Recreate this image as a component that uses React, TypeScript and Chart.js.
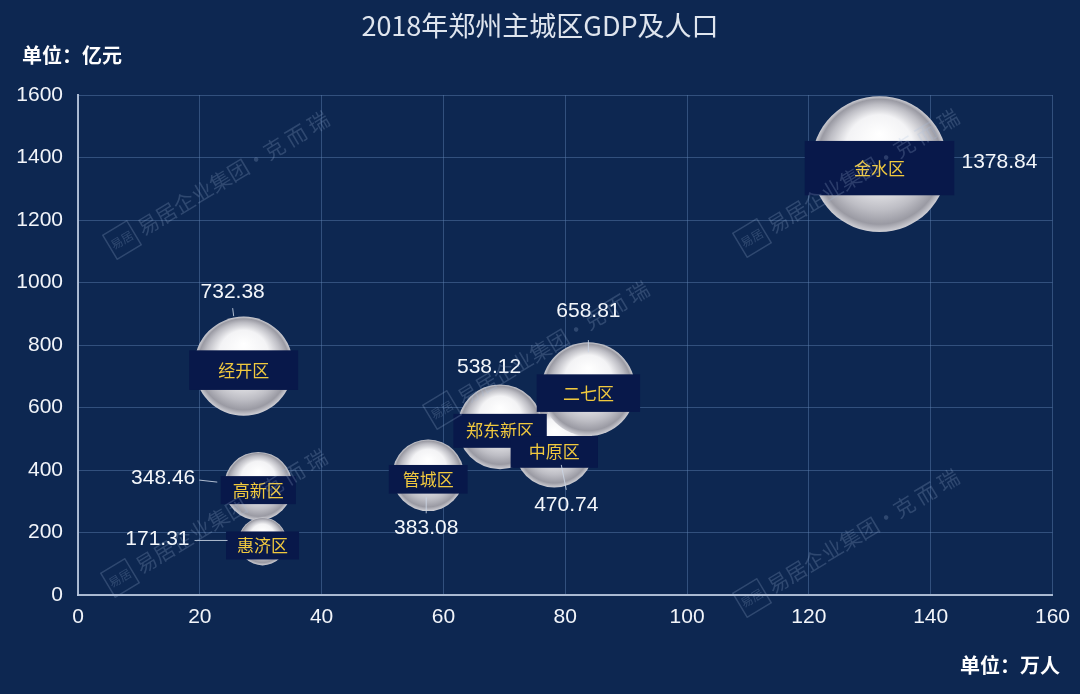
import { useEffect, useRef } from 'react';
import { Chart, registerables } from 'chart.js';

Chart.register(...registerables);

// ---- data ----
const districts = ['中原区', '郑东新区', '二七区', '金水区', '经开区', '高新区', '惠济区', '管城区'];
const population = [78.2, 69.3, 83.8, 131.6, 27.2, 29.6, 30.3, 57.5]; // 万人
const gdp = [470.74, 538.12, 658.81, 1378.84, 732.38, 348.46, 171.31, 383.08]; // 亿元
const xTickStep = 20;
const yTickStep = 200;
const xMax = 160;
const yMax = 1600;

// ---- annotation styling (value label offsets relative to bubble centre) ----
const valueAlign: CanvasTextAlign[] = ['center', 'center', 'center', 'left', 'center', 'right', 'right', 'center'];
const valueOffset = [[12, 57], [-11, -60], [0, -78], [82, -2], [-11, -74], [-63, -8], [-73, -2], [-2, 53]];
const leaderLines: (number[] | null)[] = [
  [7, 17, 12, 42],
  null,
  [0, -49, 0, -37],
  null,
  [-11, -58, -10, -50],
  [-59, -6, -41, -4],
  [-68, -1, -35, -1],
  [-2, 22, -2, 38],
];

const BG = '#0d2751';
const BOX = '#08184a';
const YELLOW = '#f1c93e';
const CJK = '"Noto Sans CJK SC", "Noto Sans", sans-serif';
const NUM = '"Liberation Sans", Arial, sans-serif';
const RK = 1.83;

const radiusFor = (v: number) => RK * Math.sqrt(v);

function sphereFill(ctx: CanvasRenderingContext2D, cx: number, cy: number, r: number) {
  const g = ctx.createRadialGradient(cx, cy - 0.45 * r, 0, cx, cy, r);
  g.addColorStop(0, '#ffffff');
  g.addColorStop(0.5, '#f3f3f5');
  g.addColorStop(0.78, '#bdbdc4');
  g.addColorStop(0.92, '#9a9aa3');
  g.addColorStop(1, '#cfcfd5');
  return g;
}

function drawWatermark(ctx: CanvasRenderingContext2D, x: number, y: number) {
  ctx.save();
  ctx.translate(x, y);
  ctx.rotate((-31 * Math.PI) / 180);
  ctx.strokeStyle = 'rgba(170,190,225,0.22)';
  ctx.fillStyle = 'rgba(170,190,225,0.22)';
  ctx.lineWidth = 1.5;
  ctx.strokeRect(-14, -14, 28, 28);
  ctx.font = `12px ${CJK}`;
  ctx.textAlign = 'center';
  ctx.textBaseline = 'middle';
  ctx.fillText('易居', 0, 0);
  ctx.font = `21px ${CJK}`;
  ctx.textAlign = 'left';
  ctx.fillText('易居企业集团·克 而 瑞', 20, 0);
  ctx.restore();
}

const overlayPlugin = {
  id: 'overlay',
  beforeDraw(chart: any) {
    const ctx = chart.ctx as CanvasRenderingContext2D;
    ctx.save();
    ctx.fillStyle = BG;
    ctx.fillRect(0, 0, chart.width, chart.height);
    ctx.restore();
  },
  afterDatasetsDraw(chart: any) {
    const ctx = chart.ctx as CanvasRenderingContext2D;
    const meta = chart.getDatasetMeta(0);
    ctx.save();
    // label boxes (drawn in reverse so 中原区 ends on top)
    const els = meta.data.map((el: any, i: number) => ({ el, i })).reverse();
    els.forEach(({ el, i }: any) => {
      const r = el.options.radius;
      ctx.font = `17px ${CJK}`;
      const tw = ctx.measureText(districts[i]).width;
      const w = Math.max(tw + 22, 2.2 * r);
      const h = Math.max(28, 0.8 * r);
      const cx = el.x;
      const cy = el.y + 4;
      ctx.fillStyle = BOX;
      ctx.fillRect(cx - w / 2, cy - h / 2, w, h);
      ctx.fillStyle = YELLOW;
      ctx.textAlign = 'center';
      ctx.textBaseline = 'middle';
      ctx.fillText(districts[i], cx, cy);
    });
    // value labels + leader lines
    meta.data.forEach((el: any, i: number) => {
      const ll = leaderLines[i];
      if (ll) {
        ctx.strokeStyle = 'rgba(205,215,230,0.85)';
        ctx.lineWidth = 1;
        ctx.beginPath();
        ctx.moveTo(el.x + ll[0], el.y + ll[1]);
        ctx.lineTo(el.x + ll[2], el.y + ll[3]);
        ctx.stroke();
      }
      ctx.fillStyle = '#f4f7fb';
      ctx.font = `21px ${NUM}`;
      ctx.textAlign = valueAlign[i];
      ctx.textBaseline = 'middle';
      ctx.fillText(gdp[i].toFixed(2), el.x + valueOffset[i][0], el.y + valueOffset[i][1]);
    });
    ctx.restore();
  },
  afterDraw(chart: any) {
    const ctx = chart.ctx as CanvasRenderingContext2D;
    ctx.save();
    // title
    ctx.fillStyle = '#dfe5ee';
    ctx.font = `27px ${CJK}`;
    ctx.textAlign = 'center';
    ctx.textBaseline = 'middle';
    ctx.fillText('2018年郑州主城区GDP及人口', 540, 26);
    // units
    ctx.fillStyle = '#ffffff';
    ctx.font = `bold 20px ${CJK}`;
    ctx.textAlign = 'left';
    ctx.fillText('单位：亿元', 22, 55);
    ctx.textAlign = 'right';
    ctx.fillText('单位：万人', 1060, 665);
    // watermarks
    drawWatermark(ctx, 122, 240);
    drawWatermark(ctx, 120, 578);
    drawWatermark(ctx, 442, 410);
    drawWatermark(ctx, 752, 238);
    drawWatermark(ctx, 752, 598);
    ctx.restore();
  },
};

export default function App() {
  const ref = useRef<HTMLCanvasElement | null>(null);

  useEffect(() => {
    if (!ref.current) return;
    const points = districts.map((_, i) => ({ x: population[i], y: gdp[i] }));
    const chart = new Chart(ref.current, {
      type: 'bubble',
      data: {
        datasets: [
          {
            label: 'GDP',
            data: points as any,
            radius: (c: any) => (c.raw ? radiusFor(c.raw.y) : 10),
            hoverRadius: 0,
            borderWidth: 0,
            backgroundColor: (c: any) => {
              const chartRef = c.chart;
              const xs = chartRef.scales && chartRef.scales.x;
              const ys = chartRef.scales && chartRef.scales.y;
              if (!xs || !ys || !c.raw) return '#e0e0e4';
              const cx = xs.getPixelForValue(c.raw.x);
              const cy = ys.getPixelForValue(c.raw.y);
              const r = radiusFor(c.raw.y);
              if (!isFinite(cx) || !isFinite(cy) || !isFinite(r)) return '#e0e0e4';
              return sphereFill(chartRef.ctx, cx, cy, r);
            },
            clip: false as any,
          },
        ],
      },
      options: {
        responsive: false,
        animation: false,
        events: [],
        layout: { autoPadding: false, padding: { left: 0, top: 95, right: 26, bottom: 0 } },
        plugins: {
          legend: { display: false },
          title: { display: false },
          tooltip: { enabled: false },
        },
        scales: {
          x: {
            type: 'linear',
            min: 0,
            max: xMax,
            ticks: {
              stepSize: xTickStep,
              color: '#f2f5fa',
              font: { family: NUM, size: 21 },
              padding: 10,
              callback: (v: any) => String(v),
            },
            grid: { color: 'rgba(95,130,180,0.45)', lineWidth: 1, drawTicks: false },
            border: { color: 'rgba(185,200,222,0.9)', width: 2 },
            afterFit: (s: any) => {
              s.height = 99;
            },
          },
          y: {
            type: 'linear',
            min: 0,
            max: yMax,
            ticks: {
              stepSize: yTickStep,
              color: '#f2f5fa',
              font: { family: NUM, size: 21 },
              padding: 15,
              callback: (v: any) => String(v),
            },
            grid: { color: 'rgba(95,130,180,0.45)', lineWidth: 1, drawTicks: false },
            border: { color: 'rgba(185,200,222,0.9)', width: 2 },
            afterFit: (s: any) => {
              s.width = 78;
            },
          },
        },
      },
      plugins: [overlayPlugin],
    });
    return () => chart.destroy();
  }, []);

  return (
    <div style={{ position: 'absolute', left: 0, top: 0, width: 1080, height: 694, background: BG }}>
      <canvas ref={ref} width={1080} height={694} style={{ display: 'block' }} />
    </div>
  );
}
